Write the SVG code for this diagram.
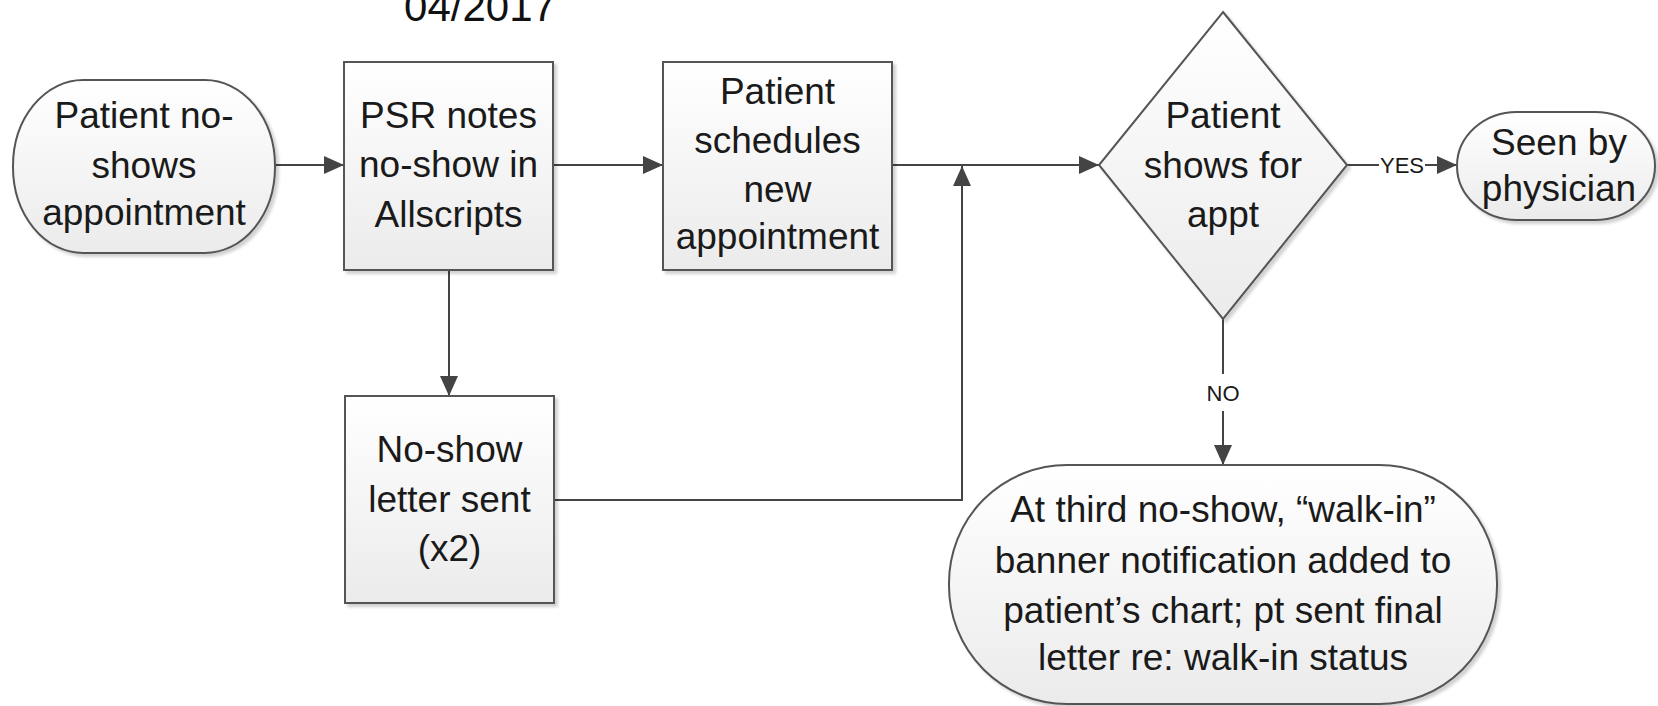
<svg xmlns="http://www.w3.org/2000/svg" width="1658" height="706" viewBox="0 0 1658 706">
  <style>
    .shape { stroke: #555555; stroke-width: 2; fill: url(#fillGrad); filter: url(#shadow); }
    .txt { font-family: "Liberation Sans", Arial, sans-serif; font-size: 37px; fill: #1a1a1a; text-anchor: middle; }
    .lbl { font-family: "Liberation Sans", Arial, sans-serif; font-size: 22px; fill: #1a1a1a; text-anchor: middle; }
    .title { font-family: "Liberation Sans", Arial, sans-serif; font-size: 42px; fill: #111111; text-anchor: middle; }
    .conn { stroke: #444444; stroke-width: 2; fill: none; }
    .conn-arrow { stroke: #444444; stroke-width: 2; fill: none; marker-end: url(#arrow); }
  </style>
  <defs>
    <linearGradient id="fillGrad" x1="0" y1="0" x2="0" y2="1">
      <stop offset="0" stop-color="#ffffff"/>
      <stop offset="1" stop-color="#ebebeb"/>
    </linearGradient>
    <filter id="shadow" x="-5%" y="-5%" width="115%" height="115%">
      <feDropShadow dx="3" dy="3" stdDeviation="1.5" flood-color="#000000" flood-opacity="0.18"/>
    </filter>
    <marker id="arrow" markerUnits="userSpaceOnUse" markerWidth="20" markerHeight="18" refX="20" refY="9" orient="auto">
      <path d="M0,0 L20,9 L0,18 Z" fill="#444444"/>
    </marker>
  </defs>

  <rect width="1658" height="706" fill="#ffffff"/>

  <text class="title" x="480" y="21">04/2017</text>

  <!-- connectors -->
  <g id="connectors">
    <line class="conn-arrow" x1="275" y1="165" x2="344" y2="165"/>
    <line class="conn-arrow" x1="553" y1="165" x2="663" y2="165"/>
    <line class="conn-arrow" x1="892" y1="165" x2="1099" y2="165"/>
    <line class="conn-arrow" x1="449" y1="270" x2="449" y2="396"/>
    <polyline class="conn-arrow" points="554,500 962,500 962,166"/>
    <line class="conn" x1="1347" y1="165" x2="1379" y2="165"/>
    <line class="conn-arrow" x1="1425" y1="165" x2="1457" y2="165"/>
    <text class="lbl" x="1402" y="173">YES</text>
    <line class="conn" x1="1223" y1="319" x2="1223" y2="374"/>
    <line class="conn-arrow" x1="1223" y1="411" x2="1223" y2="465"/>
    <text class="lbl" x="1223" y="401">NO</text>
  </g>

  <g id="start">
    <rect class="shape" x="13" y="80" width="262" height="173" rx="70" ry="86"/>
    <text class="txt" x="144" y="128">Patient no-</text>
    <text class="txt" x="144" y="178">shows</text>
    <text class="txt" x="144" y="225">appointment</text>
  </g>

  <g id="psr-notes">
    <rect class="shape" x="344" y="62" width="209" height="208"/>
    <text class="txt" x="448.5" y="128">PSR notes</text>
    <text class="txt" x="448.5" y="177">no-show in</text>
    <text class="txt" x="448.5" y="227">Allscripts</text>
  </g>

  <g id="reschedule">
    <rect class="shape" x="663" y="62" width="229" height="208"/>
    <text class="txt" x="777.5" y="104">Patient</text>
    <text class="txt" x="777.5" y="153">schedules</text>
    <text class="txt" x="777.5" y="202">new</text>
    <text class="txt" x="777.5" y="249">appointment</text>
  </g>

  <g id="letter">
    <rect class="shape" x="345" y="396" width="209" height="207"/>
    <text class="txt" x="449.5" y="462">No-show</text>
    <text class="txt" x="449.5" y="512">letter sent</text>
    <text class="txt" x="449.5" y="561">(x2)</text>
  </g>

  <g id="decision">
    <polygon class="shape" points="1223,12 1347,165 1223,319 1099,165"/>
    <text class="txt" x="1223" y="128">Patient</text>
    <text class="txt" x="1223" y="178">shows for</text>
    <text class="txt" x="1223" y="227">appt</text>
  </g>

  <g id="seen">
    <rect class="shape" x="1457" y="112" width="198" height="108" rx="60" ry="54"/>
    <text class="txt" x="1559" y="155">Seen by</text>
    <text class="txt" x="1559" y="201">physician</text>
  </g>

  <g id="walk-in">
    <rect class="shape" x="949" y="465" width="548" height="239" rx="118" ry="118"/>
    <text class="txt" x="1223" y="522">At third no-show, “walk-in”</text>
    <text class="txt" x="1223" y="573">banner notification added to</text>
    <text class="txt" x="1223" y="623">patient’s chart; pt sent final</text>
    <text class="txt" x="1223" y="670">letter re: walk-in status</text>
  </g>
</svg>
